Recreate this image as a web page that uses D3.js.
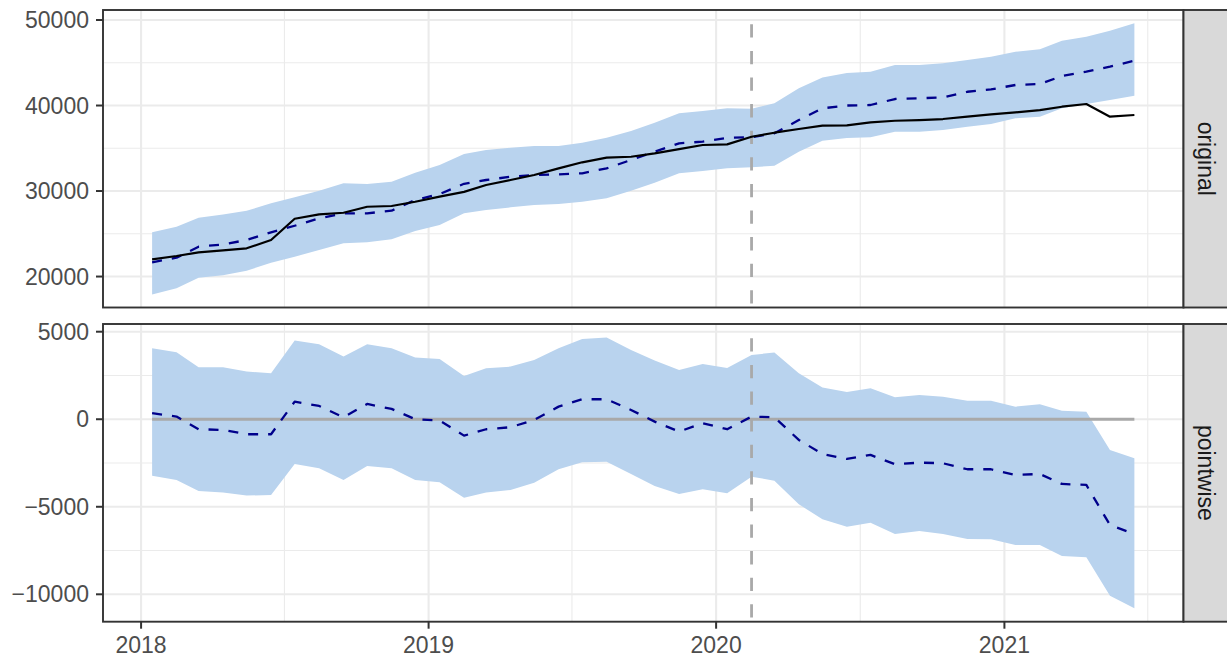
<!DOCTYPE html>
<html>
<head>
<meta charset="utf-8">
<script src="https://cdn.jsdelivr.net/npm/d3@7"></script>
<style>
  html, body { margin: 0; padding: 0; background: #fff; }
  svg { display: block; font-family: "Liberation Sans", Arial, sans-serif; }
</style>
</head>
<body>
<div id="chart"></div>
<script>
// --- Data (monthly, mid-month) ---
const startMonth = new Date(2018, 0, 15);
const nMonths = 42;
const interventionDate = new Date(2020, 1, 15);

const actual = [22010, 22400, 22830, 23060, 23300, 24270, 26760, 27270, 27460, 28160,
  28250, 28750, 29340, 29900, 30700, 31290, 31870, 32650, 33360, 33900,
  34010, 34410, 34910, 35380, 35460, 36350, 36820, 37250, 37640, 37680,
  38030, 38220, 38300, 38420, 38690, 38970, 39200, 39470, 39860, 40180,
  38690, 38890];
const predicted = [21660, 22200, 23490, 23760, 24270, 25170, 25940, 26800, 27390, 27390,
  27700, 28950, 29650, 30850, 31290, 31670, 31870, 31950, 32070, 32650,
  33630, 34600, 35580, 35770, 36230, 36280, 36750, 38300, 39670, 40000,
  40060, 40760, 40840, 40960, 41610, 41890, 42400, 42510, 43450, 43960,
  44540, 45250];
const predUpper = [25170, 25830, 26880, 27270, 27700, 28560, 29260, 30040, 30900, 30820,
  31090, 32140, 33040, 34330, 34800, 35070, 35260, 35260, 35650, 36230,
  37020, 37990, 39090, 39360, 39670, 39630, 40260, 42010, 43280, 43800,
  43960, 44740, 44740, 44930, 45320, 45710, 46290, 46570, 47580, 48050,
  48750, 49610];
const predLower = [17910, 18620, 19860, 20140, 20680, 21620, 22320, 23100, 23880, 24000,
  24350, 25320, 26020, 27390, 27780, 28090, 28360, 28480, 28750, 29150,
  30040, 30980, 32070, 32340, 32650, 32770, 32960, 34600, 35870, 36200,
  36280, 36940, 36940, 37130, 37520, 37840, 38500, 38690, 39670, 40180,
  40640, 41150];

const pointMean = [343, 150, -571, -611, -857, -857, 1006, 760, 114, 874,
  589, 0, -80, -937, -571, -457, -40, 720, 1143, 1143,
  531, -137, -708, -229, -571, 150, 114, -1183, -1983, -2268,
  -2040, -2571, -2480, -2514, -2857, -2857, -3183, -3126, -3697, -3754,
  -6040, -6554];
const pointUpper = [4056, 3828, 2971, 2971, 2720, 2628, 4493, 4284, 3577, 4284,
  4056, 3521, 3446, 2474, 2914, 3006, 3388, 4056, 4588, 4664,
  3960, 3350, 2817, 3160, 2931, 3674, 3806, 2628, 1806, 1560,
  1771, 1257, 1388, 1291, 1063, 1063, 720, 857, 491, 434,
  -1754, -2228];
const pointLower = [-3221, -3468, -4097, -4192, -4363, -4326, -2554, -2800, -3468, -2668,
  -2800, -3468, -3600, -4478, -4192, -4040, -3623, -2857, -2457, -2423,
  -3126, -3811, -4268, -4000, -4228, -3280, -3508, -4857, -5714, -6137,
  -5908, -6554, -6383, -6554, -6840, -6860, -7183, -7183, -7811, -7885,
  -10080, -10800];

// --- Axis breaks ---
const yearTicks = [2018, 2019, 2020, 2021];
const xMinorDates = ["2018-07-02", "2019-07-02", "2020-07-02", "2021-07-02"];
const origTicks = [20000, 30000, 40000, 50000];
const origMinor = [25000, 35000, 45000];
const pointTicks = [-10000, -5000, 0, 5000];
const pointMinor = [-7500, -2500, 2500];
const facetLabels = ["original", "pointwise"];

// --- Layout ---
const W = 1227, H = 659;
const left = 103, right = 1183.5;
const panels = [
  { top: 10, bottom: 307.5, domain: [16380, 51170], ticks: origTicks, minor: origMinor },
  { top: 324, bottom: 621.7, domain: [-11565, 5440], ticks: pointTicks, minor: pointMinor }
];

const dates = d3.range(nMonths).map(i => d3.timeMonth.offset(startMonth, i));
const rows = dates.map((d, i) => ({
  date: d, actual: actual[i], pred: predicted[i], lo: predLower[i], hi: predUpper[i],
  pm: pointMean[i], plo: pointLower[i], phi: pointUpper[i]
}));

// x domain: data extent with 5% expansion (ggplot default)
const ext = d3.extent(dates);
const pad = (ext[1] - ext[0]) * 0.05;
const x = d3.scaleTime()
  .domain([new Date(+ext[0] - pad), new Date(+ext[1] + pad)])
  .range([left, right]);

const svg = d3.select('#chart').append('svg').attr('width', W).attr('height', H);

const fmt = v => (v < 0 ? "\u2212" + Math.abs(v) : String(v));

panels.forEach((p, k) => {
  const y = d3.scaleLinear().domain(p.domain).range([p.bottom, p.top]);
  const g = svg.append('g');

  g.append('rect').attr('x', left).attr('y', p.top)
    .attr('width', right - left).attr('height', p.bottom - p.top).attr('fill', '#fff');

  // minor grid
  g.selectAll('line.ymin').data(p.minor).join('line')
    .attr('x1', left).attr('x2', right).attr('y1', d => y(d)).attr('y2', d => y(d))
    .attr('stroke', '#EBEBEB').attr('stroke-width', 1.1);
  g.selectAll('line.xmin').data(xMinorDates.map(s => new Date(s + "T00:00:00"))).join('line')
    .attr('x1', d => x(d)).attr('x2', d => x(d)).attr('y1', p.top).attr('y2', p.bottom)
    .attr('stroke', '#EBEBEB').attr('stroke-width', 1.1);

  // major grid
  g.selectAll('line.ymaj').data(p.ticks).join('line')
    .attr('x1', left).attr('x2', right).attr('y1', d => y(d)).attr('y2', d => y(d))
    .attr('stroke', '#EBEBEB').attr('stroke-width', 2.1);
  g.selectAll('line.xmaj').data(yearTicks.map(yr => new Date(yr, 0, 1))).join('line')
    .attr('x1', d => x(d)).attr('x2', d => x(d)).attr('y1', p.top).attr('y2', p.bottom)
    .attr('stroke', '#EBEBEB').attr('stroke-width', 2.1);

  const lo = k === 0 ? 'lo' : 'plo';
  const hi = k === 0 ? 'hi' : 'phi';
  const mean = k === 0 ? 'pred' : 'pm';

  // interval ribbon
  g.append('path').datum(rows)
    .attr('d', d3.area().x(d => x(d.date)).y0(d => y(d[lo])).y1(d => y(d[hi])))
    .attr('fill', '#B9D3EE');

  // zero baseline on pointwise panel
  if (k === 1) {
    g.append('line')
      .attr('x1', x(ext[0])).attr('x2', x(ext[1])).attr('y1', y(0)).attr('y2', y(0))
      .attr('stroke', '#A9A9A9').attr('stroke-width', 2.8);
  }

  // intervention line
  g.append('line')
    .attr('x1', x(interventionDate)).attr('x2', x(interventionDate))
    .attr('y1', p.top + 14.3).attr('y2', p.bottom)
    .attr('stroke', '#A9A9A9').attr('stroke-width', 2.8)
    .attr('stroke-dasharray', '13.3,13.3');

  // counterfactual mean
  g.append('path').datum(rows)
    .attr('d', d3.line().x(d => x(d.date)).y(d => y(d[mean])))
    .attr('fill', 'none').attr('stroke', '#00008B').attr('stroke-width', 2.3)
    .attr('stroke-linejoin', 'round').attr('stroke-dasharray', '10,10');

  // observed series
  if (k === 0) {
    g.append('path').datum(rows)
      .attr('d', d3.line().x(d => x(d.date)).y(d => y(d.actual)))
      .attr('fill', 'none').attr('stroke', '#000').attr('stroke-width', 2.2)
      .attr('stroke-linejoin', 'round');
  }

  // panel border
  g.append('rect').attr('x', left).attr('y', p.top)
    .attr('width', right - left).attr('height', p.bottom - p.top)
    .attr('fill', 'none').attr('stroke', '#333333').attr('stroke-width', 1.9);

  // y ticks + labels
  g.selectAll('line.yt').data(p.ticks).join('line')
    .attr('x1', left - 7).attr('x2', left).attr('y1', d => y(d)).attr('y2', d => y(d))
    .attr('stroke', '#333333').attr('stroke-width', 2);
  g.selectAll('text.yl').data(p.ticks).join('text')
    .attr('x', 89).attr('y', d => y(d)).attr('dy', '0.35em')
    .attr('text-anchor', 'end').attr('font-size', 23).attr('fill', '#4D4D4D')
    .text(fmt);

  // facet strip
  g.append('rect').attr('x', right).attr('y', p.top)
    .attr('width', 60).attr('height', p.bottom - p.top)
    .attr('fill', '#D9D9D9').attr('stroke', '#333333').attr('stroke-width', 1.9);
  const cy = (p.top + p.bottom) / 2;
  g.append('text')
    .attr('transform', `translate(1206,${cy}) rotate(90)`)
    .attr('text-anchor', 'middle').attr('dy', '0.35em')
    .attr('font-size', 23).attr('fill', '#1A1A1A')
    .text(facetLabels[k]);
});

// --- x axis (bottom panel only) ---
const bottom = panels[1].bottom;
const years = yearTicks.map(yr => new Date(yr, 0, 1));
svg.selectAll('line.xt').data(years).join('line')
  .attr('x1', d => x(d)).attr('x2', d => x(d)).attr('y1', bottom).attr('y2', bottom + 7)
  .attr('stroke', '#333333').attr('stroke-width', 2);
svg.selectAll('text.xl').data(yearTicks).join('text')
  .attr('x', (d, i) => x(years[i])).attr('y', 653)
  .attr('text-anchor', 'middle').attr('font-size', 23).attr('fill', '#4D4D4D')
  .text(d => d);
</script>
</body>
</html>
